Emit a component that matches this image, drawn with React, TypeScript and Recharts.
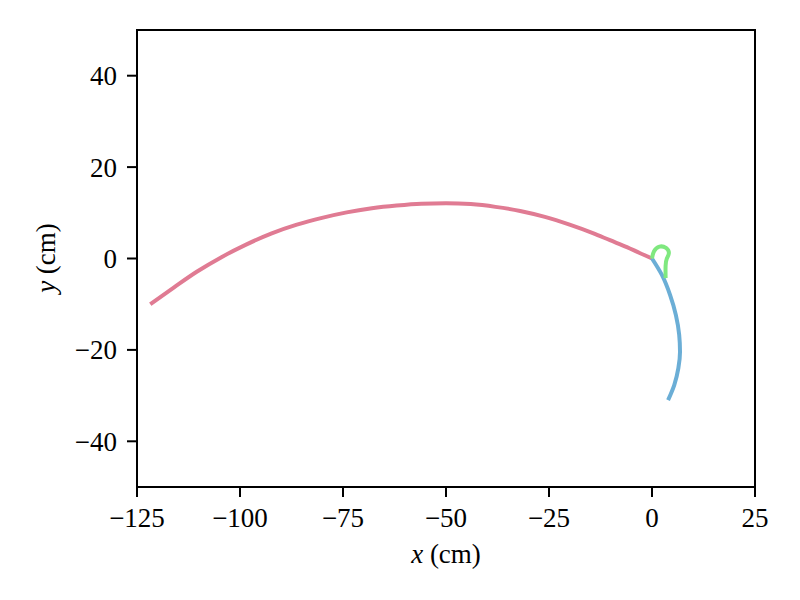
import { LineChart, Line, XAxis, YAxis, ReferenceArea } from "recharts";

// trajectories (cm)
const redX = [-121.8, -116, -110.5, -104.5, -98.4, -92.3, -86.2, -80.1, -74.1, -68, -62.0, -56, -50, -44, -38, -32, -26, -20, -14.2, -10.2, -6.1, -3, 0];
const redY = [-10.0, -6.3, -2.9, 0.3, 3.1, 5.5, 7.4, 8.9, 10.1, 11.0, 11.6, 12.0, 12.1, 11.9, 11.3, 10.4, 9.1, 7.4, 5.5, 4.0, 2.5, 1.2, 0];

const blueX = [0, 2.4, 4.4, 5.8, 6.6, 6.8, 6.4, 5.4, 3.9];
const blueY = [0, -3.6, -8.0, -12.4, -16.7, -20.4, -24.0, -27.7, -31.0];

const greenX = [0, 0.5, 1.8, 3.4, 4.1, 3.6, 3.3, 3.3];
const greenY = [0, 1.6, 2.6, 2.3, 1.2, 0.0, -1.6, -4.3];

const xTicks = [-125, -100, -75, -50, -25, 0, 25];
const yTicks = [-40, -20, 0, 20, 40];

const toPoints = (xs: number[], ys: number[]) => xs.map((x, i) => ({ x, y: ys[i] }));

const FONT = "'Liberation Serif', 'Times New Roman', serif";
const fmt = (v: number) => String(v).replace("-", "\u2212");

export default function App() {
  return (
    <div style={{ position: "absolute", left: 0, top: 0, width: 800, height: 600, background: "#fff" }}>
      <LineChart
        width={800}
        height={600}
        margin={{ top: 30, right: 45, bottom: 0, left: 0 }}
        style={{ fontFamily: FONT }}
      >
        <XAxis
          type="number"
          dataKey="x"
          domain={[-125, 25]}
          ticks={xTicks}
          allowDataOverflow
          height={113}
          tickSize={10}
          tickMargin={11}
          tickFormatter={fmt}
          axisLine={{ stroke: "#000", strokeWidth: 2 }}
          tickLine={{ stroke: "#000", strokeWidth: 2 }}
          tick={{ fill: "#000", fontSize: 27, fontFamily: FONT }}
        />
        <YAxis
          type="number"
          dataKey="y"
          domain={[-50, 50]}
          ticks={yTicks}
          allowDataOverflow
          width={137}
          tickSize={10}
          tickMargin={10}
          tickFormatter={fmt}
          axisLine={{ stroke: "#000", strokeWidth: 2 }}
          tickLine={{ stroke: "#000", strokeWidth: 2 }}
          tick={{ fill: "#000", fontSize: 27, fontFamily: FONT }}
        />
        <ReferenceArea x1={-125} x2={25} y1={-50} y2={50} fill="none" stroke="#000" strokeWidth={2} />
        <Line data={toPoints(redX, redY)} dataKey="y" type="monotoneX" stroke="#e07b93" strokeWidth={4} dot={false} isAnimationActive={false} />
        <Line data={toPoints(blueX, blueY)} dataKey="y" type="monotoneY" stroke="#6baed6" strokeWidth={4} dot={false} isAnimationActive={false} />
        <Line data={toPoints(greenX, greenY)} dataKey="y" type="natural" stroke="#7fe87f" strokeWidth={4} dot={false} isAnimationActive={false} />
        <text x={446} y={563} textAnchor="middle" fontSize={27} fontFamily={FONT} fill="#000">
          <tspan fontStyle="italic">x</tspan> (cm)
        </text>
        <text x={55} y={258} transform="rotate(-90 55 258)" textAnchor="middle" fontSize={27} fontFamily={FONT} fill="#000">
          <tspan fontStyle="italic">y</tspan> (cm)
        </text>
      </LineChart>
    </div>
  );
}
